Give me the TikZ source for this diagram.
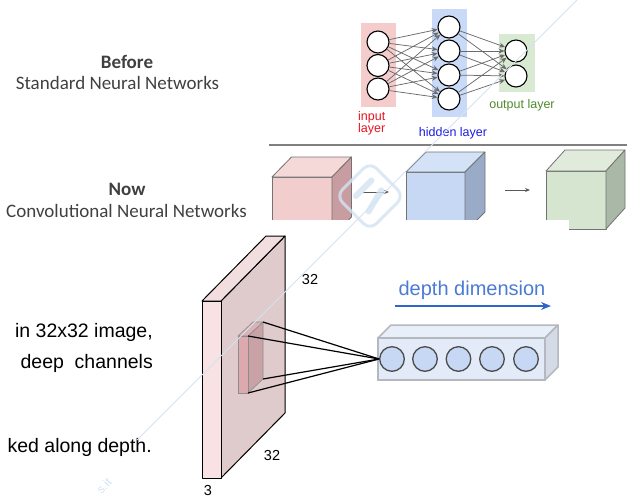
\documentclass[tikz,border=0pt]{standalone}
\usepackage{fontspec}
\setmainfont{Liberation Sans}
\newfontfamily\calib{Carlito}
\usetikzlibrary{arrows.meta}

% layer backgrounds of the small network
\definecolor{inbg}{HTML}{F4CCCC}
\definecolor{hidbg}{HTML}{C9DAF8}
\definecolor{outbg}{HTML}{D9EAD3}
\definecolor{inred}{HTML}{E8141E}
\definecolor{hidblue}{HTML}{1C1CE0}
\definecolor{outgreen}{HTML}{4E8A2E}
% cube faces: F front, T top, S side
\definecolor{pinkF}{HTML}{F2CDCD}
\definecolor{pinkT}{HTML}{F5D8D8}
\definecolor{pinkS}{HTML}{C79DA1}
\definecolor{blueF}{HTML}{C6D8F4}
\definecolor{blueT}{HTML}{D4E2F8}
\definecolor{blueS}{HTML}{9AABC8}
\definecolor{greenF}{HTML}{D5E5D0}
\definecolor{greenT}{HTML}{E0EBDB}
\definecolor{greenS}{HTML}{AAB9A7}
% input volume and filter
\definecolor{volF}{HTML}{F8E2E4}
\definecolor{volT}{HTML}{F2DDDF}
\definecolor{volS}{HTML}{DFCACC}
\definecolor{filF}{HTML}{DBA9AE}
\definecolor{filT}{HTML}{D9B3B6}
\definecolor{filS}{HTML}{C9A2A6}
% depth column
\definecolor{colF}{HTML}{E3EBF9}
\definecolor{colT}{HTML}{E9EFF9}
\definecolor{colS}{HTML}{D5DBE6}
\definecolor{coledge}{HTML}{B4B8BF}
\definecolor{cellfill}{HTML}{C6D8F3}
\definecolor{depthblue}{HTML}{4A7BD3}
\definecolor{arrowblue}{HTML}{2F66C9}
\definecolor{slategray}{HTML}{404040}
\definecolor{wmark}{HTML}{D3E3F2}

% box with front face at (#1,#2), size #3 x #4, depth offset (#5,#6), colour prefix #7
\newcommand{\drawcube}[7]{%
  \filldraw[fill=#7F,cubeedge] (#1,#2) rectangle ++(#3,#4);
  \filldraw[fill=#7T,cubeedge] (#1,#2) -- ++(#3,0) -- ++(#5,#6) -- ++({-(#3)},0) -- cycle;
  \filldraw[fill=#7S,cubeedge] ({#1+#3},#2) -- ++(#5,#6) -- ++(0,#4) -- ++({-(#5)},{-(#6)}) -- cycle;}

\begin{document}
\begin{tikzpicture}[x=1pt,y=-1pt,
  neuron/.style={circle,draw=black,line width=1.1pt,fill=white,minimum size=22pt,inner sep=0pt},
  link/.style={draw=black!58,line width=0.75pt,-{Stealth[length=6pt,width=5pt]}},
  layerbg/.style={inner sep=0pt,minimum width=35pt},
  nnlabel/.style={font=\fontsize{12.5}{14}\selectfont,inner sep=0pt,align=left},
  slidetitle/.style={font=\calib\fontsize{19}{22}\selectfont,text=slategray,inner sep=0pt},
  bodytext/.style={font=\fontsize{19.5}{22}\selectfont,inner sep=0pt,anchor=east},
  dimlabel/.style={font=\fontsize{14.5}{16}\selectfont,inner sep=0pt},
  cubeedge/.style={draw=black!55,line width=0.8pt,line join=round},
  smallarrow/.style={draw=black!65,line width=0.9pt,-{Stealth[length=5pt,width=4pt]}},
  voledge/.style={draw=black,line width=1pt,line join=round},
  filedge/.style={draw=black!45,line width=0.6pt,line join=round},
  ray/.style={draw=black,line width=1.2pt},
  cell/.style={circle,draw=black!70,line width=1.3pt,fill=cellfill,minimum size=24.6pt,inner sep=0pt},
  wm/.style={draw=wmark,line width=1pt}]
\useasboundingbox (0,0) rectangle (634,498);

% ---------- slide titles ----------
\node[slidetitle,font=\calib\bfseries\fontsize{19}{22}\selectfont] (before) at (127,62) {Before};
\node[slidetitle] (std) at (117.5,83) {Standard Neural Networks};
\node[slidetitle,font=\calib\bfseries\fontsize{19}{22}\selectfont] (now) at (127,189) {Now};
\node[slidetitle] (cnn) at (126.5,211) {Convolutional Neural Networks};

% ---------- fully connected network ----------
\node[layerbg,fill=inbg,minimum height=84pt] (inbox) at (378.5,65) {};
\node[layerbg,fill=hidbg,minimum height=108pt] (hidbox) at (449.5,63) {};
\node[layerbg,fill=outbg,minimum height=58pt,minimum width=36pt] (outbox) at (517,63) {};

\node[neuron] (i1) at (378,42) {};
\node[neuron] (i2) at (378,65.5) {};
\node[neuron] (i3) at (378,89) {};
\node[neuron] (h1) at (449,27) {};
\node[neuron] (h2) at (449,51) {};
\node[neuron] (h3) at (449,75) {};
\node[neuron] (h4) at (449,99) {};
\node[neuron] (o1) at (516,51) {};
\node[neuron] (o2) at (516,76) {};

\foreach \a in {1,2,3}
  \foreach \b in {1,2,3,4}
    \draw[link] (i\a) -- (h\b);
\foreach \a in {1,2,3,4}
  \foreach \b in {1,2}
    \draw[link] (h\a) -- (o\b);

\node[nnlabel,text=inred,anchor=north west] (inlbl) at (358,111) {input\\[-1.5pt]layer};
\node[nnlabel,text=hidblue] (hidlbl) at (453,133) {hidden layer};
\node[nnlabel,text=outgreen] (outlbl) at (522,105) {output layer};

\draw[draw=black!50,line width=1.4pt] (269,145) -- (627,145);

% ---------- three volumes ----------
\drawcube{272}{177}{60}{60}{19.5}{-20}{pink}
\drawcube{406}{172}{59}{60}{20}{-20}{blue}
\drawcube{546}{171}{60}{58}{19}{-21}{green}
\coordinate (a1s) at (363,192);
\coordinate (a1e) at (389,192);
\coordinate (a2s) at (505,190);
\coordinate (a2e) at (530,190);
\draw[smallarrow] (a1s) -- (a1e);
\draw[smallarrow] (a2s) -- (a2e);
% the lower edge of the strip is cut away
\fill[white] (262,220) rectangle (569,240);

% ---------- body text ----------
\node[bodytext] (t1) at (153,332) {in 32x32 image,};
\node[bodytext] (t2) at (153,363) {deep\hspace{0.55em}channels};
\node[bodytext] (t3) at (152,447) {ked along depth.};

% ---------- input volume 32x32x3 ----------
\filldraw[fill=volS,voledge] (221,301) -- (285,236) -- (285,413) -- (221,478) -- cycle;
\filldraw[fill=volT,voledge] (202,301) -- (221,301) -- (285,236) -- (266,236) -- cycle;
\filldraw[fill=volF,voledge] (202,301) rectangle (221,478);

% receptive field
\coordinate (fa) at (248,336);
\coordinate (fb) at (263,322);
\coordinate (fc) at (263,379);
\coordinate (fd) at (248,393);
\filldraw[fill=filS,filedge] (fa) -- (fb) -- (fc) -- (fd) -- cycle;
\filldraw[fill=filT,filedge] (238,336) -- (fa) -- (fb) -- (253,322) -- cycle;
\filldraw[fill=filF,filedge] (238,336) rectangle (fd);

\node[dimlabel] (d32a) at (310,280) {32};
\node[dimlabel] (d32b) at (272,456) {32};
\node[dimlabel] (d3) at (208,490) {3};

% ---------- column of neurons along depth ----------
\filldraw[fill=colT,draw=coledge,line width=1.5pt,line join=round] (378,338) -- (545,338) -- (558,325) -- (391,325) -- cycle;
\filldraw[fill=colS,draw=coledge,line width=1.5pt,line join=round] (545,338) -- (558,325) -- (558,367) -- (545,380) -- cycle;
\filldraw[fill=colF,draw=coledge,line width=1.5pt] (378,338) rectangle (545,380);
\node[cell] (c1) at (392,359) {};
\node[cell] (c2) at (425,359) {};
\node[cell] (c3) at (458.5,359) {};
\node[cell] (c4) at (492,359) {};
\node[cell] (c5) at (526,359) {};

\draw[ray] (fa) -- (c1.west);
\draw[ray] (fb) -- (c1.west);
\draw[ray] (fc) -- (c1.west);
\draw[ray] (fd) -- (c1.west);

\node[font=\fontsize{20}{24}\selectfont,text=depthblue,inner sep=0pt] (depth) at (472,290) {depth dimension};
\coordinate (ds) at (395,306);
\coordinate (de) at (551,306);
\draw[draw=arrowblue,line width=1.6pt,-{Stealth[length=10pt,width=8pt]}] (ds) -- (de);

% ---------- faint watermark ----------
\draw[wm] (577,0) -- (137,440);
\begin{scope}[shift={(370,196)},rotate=-45]
  \draw[draw=wmark,line width=3pt,rounded corners=9pt,opacity=0.8] (-24,-24) rectangle (24,24);
  \draw[draw=wmark,line width=6pt,line cap=round,opacity=0.8] (-10,-12) -- (-10,10);
  \draw[draw=wmark,line width=6pt,line cap=round,opacity=0.8] (4,-12) -- (10,12);
\end{scope}
\node[text=wmark,rotate=45,font=\fontsize{12}{13}\selectfont,inner sep=0pt] (wmtxt) at (104,486) {s.it};
\end{tikzpicture}
\end{document}
